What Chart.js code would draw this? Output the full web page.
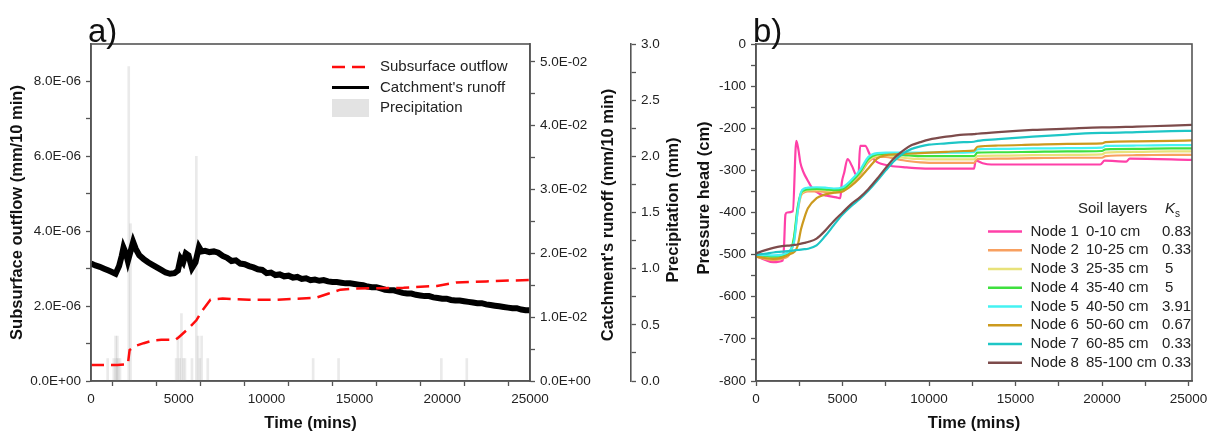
<!DOCTYPE html>
<html>
<head>
<meta charset="utf-8">
<script src="https://cdn.jsdelivr.net/npm/chart.js@4.4.1/dist/chart.umd.min.js"></script>
<style>
  html, body { margin: 0; padding: 0; background: #fff; }
  #wrap { position: relative; width: 1213px; height: 434px; }
  #chartA { position: absolute; left: 0; top: 0; }
  #chartB { position: absolute; left: 690px; top: 0; }
</style>
</head>
<body>
<div id="wrap">
  <canvas id="chartA" width="690" height="434"></canvas>
  <canvas id="chartB" width="523" height="434"></canvas>
</div>
<script>
// ---- panel a data ----
const OUTFLOW_TIME = [0, 1500, 2100, 2200, 2500, 3000, 3500, 4000, 4800, 5000, 5500, 6000, 6300, 6800, 7500, 9000, 10500, 12800, 13500, 14200, 15000, 17800, 19700, 20800, 22500, 25000];
const OUTFLOW = [0.43e-6, 0.43e-6, 0.45e-6, 0.83e-6, 0.93e-6, 1.01e-6, 1.08e-6, 1.10e-6, 1.10e-6, 1.17e-6, 1.38e-6, 1.62e-6, 1.86e-6, 2.17e-6, 2.20e-6, 2.17e-6, 2.17e-6, 2.22e-6, 2.33e-6, 2.44e-6, 2.47e-6, 2.49e-6, 2.54e-6, 2.63e-6, 2.66e-6, 2.70e-6];

const RUNOFF_TIME = [0, 250, 500, 750, 1000, 1250, 1400, 1600, 1750, 1850, 2000, 2100, 2250, 2400, 2550, 2750, 3000, 3250, 3500, 3750, 4000, 4250, 4500, 4750, 4950, 5100, 5250, 5400, 5550, 5750, 5950, 6150, 6300, 6500, 6750, 7000, 7250, 7500, 7750, 8000, 8250, 8500, 8750, 9000, 9250, 9500, 9750, 10000, 10250, 10500, 10750, 11000, 11250, 11500, 11750, 12000, 12250, 12500, 12750, 13000, 13250, 13500, 13750, 14000, 14250, 14500, 14750, 15000, 15250, 15500, 15750, 16000, 16250, 16500, 16750, 17000, 17250, 17500, 17750, 18000, 18250, 18500, 18750, 19000, 19250, 19500, 19750, 20000, 20250, 20500, 20750, 21000, 21250, 21500, 21750, 22000, 22250, 22500, 22750, 23000, 23250, 23500, 23750, 24000, 24250, 24500, 24750, 25000];
const RUNOFF = [0.0184, 0.0181, 0.0179, 0.0176, 0.0173, 0.0170, 0.0168, 0.0180, 0.0196, 0.0209, 0.0199, 0.0188, 0.0203, 0.0218, 0.0207, 0.0197, 0.0191, 0.0186, 0.0182, 0.0178, 0.0174, 0.0170, 0.0168, 0.0169, 0.0173, 0.0192, 0.0186, 0.0200, 0.0197, 0.0177, 0.0186, 0.0210, 0.0203, 0.0204, 0.0202, 0.0203, 0.0201, 0.0196, 0.0193, 0.0188, 0.0189, 0.0184, 0.0183, 0.0180, 0.0178, 0.0175, 0.0174, 0.0169, 0.0170, 0.0166, 0.0167, 0.0164, 0.0165, 0.0162, 0.0163, 0.0160, 0.0161, 0.0158, 0.0159, 0.0157, 0.0158, 0.0156, 0.0155, 0.0155, 0.0154, 0.0153, 0.0153, 0.0152, 0.0151, 0.0150, 0.0148, 0.0147, 0.0147, 0.0145, 0.0143, 0.0142, 0.0142, 0.0140, 0.0138, 0.0137, 0.0137, 0.0135, 0.0134, 0.0133, 0.0133, 0.0131, 0.0130, 0.0129, 0.0129, 0.0127, 0.0126, 0.0126, 0.0125, 0.0124, 0.0123, 0.0122, 0.0122, 0.0120, 0.0119, 0.0118, 0.0117, 0.0116, 0.0115, 0.0114, 0.0114, 0.0112, 0.0111, 0.0111];

const PRECIP_TIME = [950, 1300, 1400, 1450, 1500, 1550, 1650, 2150, 2250, 4850, 4950, 5050, 5150, 5250, 5350, 5750, 6000, 6100, 6200, 6300, 6650, 12650, 14100, 19950, 21400];
const PRECIP_MM = [0.2, 0.2, 0.4, 0.2, 0.4, 0.2, 0.2, 2.8, 1.4, 0.2, 0.4, 0.2, 0.6, 0.2, 0.2, 0.2, 2.0, 0.4, 0.2, 0.4, 0.2, 0.2, 0.2, 0.2, 0.2];

const A_X_TICKS = [0, 2500, 5000, 7500, 10000, 12500, 15000, 17500, 20000, 22500, 25000];
const A_X_LABELS = ['0', '', '5000', '', '10000', '', '15000', '', '20000', '', '25000'];
const OUTFLOW_TICKS = [0, 1e-6, 2e-6, 3e-6, 4e-6, 5e-6, 6e-6, 7e-6, 8e-6];
const OUTFLOW_LABELS = ['0.0E+00', '', '2.0E-06', '', '4.0E-06', '', '6.0E-06', '', '8.0E-06'];
const RUNOFF_TICKS = [0, 0.005, 0.01, 0.015, 0.02, 0.025, 0.03, 0.035, 0.04, 0.045, 0.05];
const RUNOFF_LABELS = ['0.0E+00', '', '1.0E-02', '', '2.0E-02', '', '3.0E-02', '', '4.0E-02', '', '5.0E-02'];
const PRECIP_TICKS = [0, 0.25, 0.5, 0.75, 1, 1.25, 1.5, 1.75, 2, 2.25, 2.5, 2.75, 3];
const PRECIP_LABELS = ['0.0', '', '0.5', '', '1.0', '', '1.5', '', '2.0', '', '2.5', '', '3.0'];

// ---- panel b data ----
const NODE_NAMES = ['Node 1', 'Node 2', 'Node 3', 'Node 4', 'Node 5', 'Node 6', 'Node 7', 'Node 8'];
const NODE_DEPTHS = ['0-10 cm', '10-25 cm', '25-35 cm', '35-40 cm', '40-50 cm', '50-60 cm', '60-85 cm', '85-100 cm'];
const NODE_KS = ['0.83', '0.33', '5', '5', '3.91', '0.67', '0.33', '0.33'];

const N1_TIME = [0, 500, 1000, 1550, 1620, 1700, 1800, 2130, 2330, 2460, 2560, 2750, 2950, 3300, 3700, 4100, 4650, 4870, 4960, 5100, 5290, 5540, 5830, 5920, 6020, 6310, 6600, 6980, 7750, 8700, 10000, 12600, 12700, 13100, 13600, 19900, 20150, 21400, 21600, 25200];
const N1_HEAD = [-503, -512, -518, -514, -480, -405, -400, -397, -230, -253, -281, -305, -321, -345, -356, -360, -364, -366, -329, -305, -273, -289, -313, -312, -242, -242, -264, -280, -289, -293, -296, -296, -277, -283, -286, -286, -277, -279, -272, -275];

const B_TIME = [0, 500, 1000, 1500, 2000, 2200, 2400, 2600, 2800, 3000, 3500, 4000, 4500, 5000, 5500, 6000, 6500, 7000, 7500, 8000, 8500, 9000, 9500, 10000, 11000, 12000, 12600, 12800, 14000, 16000, 18000, 20000, 20200, 22000, 24000, 25200];
const N2_HEAD = [-505, -510, -513, -510, -495, -465, -400, -360, -352, -350, -350, -351, -352, -350, -332, -310, -280, -268, -268, -272, -276, -279, -281, -282, -282, -282, -282, -273, -272, -271, -270, -270, -266, -264, -263, -263];
const N3_HEAD = [-503, -507, -509, -506, -492, -460, -395, -357, -349, -347, -346, -347, -349, -347, -330, -307, -276, -265, -264, -267, -270, -272, -273, -274, -274, -274, -274, -266, -265, -264, -263, -262, -258, -256, -255, -255];
const N4_HEAD = [-501, -503, -505, -503, -490, -458, -390, -354, -347, -345, -344, -345, -347, -345, -328, -305, -273, -262, -261, -262, -264, -265, -266, -266, -266, -266, -266, -258, -257, -256, -255, -254, -250, -249, -248, -248];
const N5_HEAD = [-500, -501, -502, -500, -488, -470, -400, -352, -343, -341, -340, -341, -343, -340, -323, -300, -268, -259, -258, -258, -258, -258, -258, -258, -258, -258, -257, -250, -249, -248, -247, -246, -242, -241, -240, -240];
const N6_HEAD = [-505, -508, -510, -507, -498, -494, -480, -440, -412, -390, -366, -357, -353, -350, -337, -318, -295, -272, -264, -262, -261, -260, -259, -258, -256, -254, -253, -244, -241, -239, -237, -236, -233, -231, -230, -229];
const N7_HEAD = [-500, -498, -495, -493, -491, -490, -489, -488, -487, -486, -478, -456, -430, -405, -385, -368, -348, -325, -300, -277, -260, -249, -243, -239, -236, -233, -232, -230, -226, -220, -215, -211, -211, -209, -207, -206];
const N8_HEAD = [-497, -490, -484, -480, -478, -477, -476, -474, -472, -470, -462, -443, -420, -400, -380, -364, -344, -320, -294, -270, -253, -240, -233, -227, -220, -215, -214, -213, -209, -204, -201, -198, -198, -196, -194, -192];

const B_X_TICKS = [0, 2500, 5000, 7500, 10000, 12500, 15000, 17500, 20000, 22500, 25000];
const B_X_LABELS = ['0', '', '5000', '', '10000', '', '15000', '', '20000', '', '25000'];
const B_Y_TICKS = [-800, -750, -700, -650, -600, -550, -500, -450, -400, -350, -300, -250, -200, -150, -100, -50, 0];
const B_Y_LABELS = ['-800', '', '-700', '', '-600', '', '-500', '', '-400', '', '-300', '', '-200', '', '-100', '', '0'];

// ---- styles ----
const FONT = "'Liberation Sans', Arial, sans-serif";
const AXIS_COLOR = '#555';
const NODE_COLORS = ['#ff40a8', '#f8a060', '#e8e27a', '#3fe03f', '#44f2f2', '#cc9a1e', '#1ec6c6', '#7d4b4b'];

Chart.defaults.font.family = FONT;
Chart.defaults.color = '#222';

const pts = (xs, ys) => xs.map((x, i) => ({ x: x, y: ys[i] }));
const setTicks = values => scale => { scale.ticks = values.map(v => ({ value: v })); };

function axis(position, min, max, ticks, labels, size, extra) {
  const vertical = position === 'left' || position === 'right';
  return Object.assign({
    type: 'linear',
    position: position,
    min: min,
    max: max,
    offset: false,
    afterBuildTicks: setTicks(ticks),
    afterFit: s => { if (vertical) s.width = size; else s.height = size; },
    border: { color: AXIS_COLOR, width: 1.6 },
    grid: { drawOnChartArea: false, drawTicks: true, tickLength: 5, tickWidth: 1.3, tickColor: AXIS_COLOR },
    ticks: { autoSkip: false, maxRotation: 0, padding: 5, color: '#222', font: { size: 13.5 },
             callback: (v, i) => labels[i] }
  }, extra || {});
}

function vText(ctx, text, x, y) {
  ctx.save();
  ctx.translate(x, y);
  ctx.rotate(-Math.PI / 2);
  ctx.textAlign = 'center';
  ctx.textBaseline = 'middle';
  ctx.fillText(text, 0, 0);
  ctx.restore();
}

// box around the plot, panel letter and custom axis titles
const framePlugin = {
  id: 'frame',
  afterDraw(chart, args, opts) {
    const { ctx, chartArea: a } = chart;
    ctx.save();
    ctx.strokeStyle = AXIS_COLOR;
    ctx.lineWidth = 1.6;
    ctx.strokeRect(a.left, a.top, a.right - a.left, a.bottom - a.top);
    ctx.fillStyle = '#111';
    ctx.font = '33px ' + FONT;
    ctx.textBaseline = 'alphabetic';
    ctx.textAlign = 'left';
    ctx.fillText(opts.label, a.left - 3, a.top - 2);
    ctx.font = 'bold 16.5px ' + FONT;
    (opts.titles || []).forEach(t => {
      const s = chart.scales[t.axis];
      vText(ctx, t.text, s.right + t.dx, t.y);
    });
    ctx.restore();
  }
};

const legendA = {
  id: 'legendA',
  afterDraw(chart) {
    const { ctx, chartArea: a } = chart;
    const x0 = a.right - 198, x1 = a.right - 161, tx = a.right - 150;
    ctx.save();
    ctx.font = '15px ' + FONT;
    ctx.textBaseline = 'middle';
    chart.data.datasets.forEach((ds, i) => {
      const y = a.top + 23 + 20.5 * i;
      if (ds.type === 'bar') {
        ctx.fillStyle = '#e3e3e3';
        ctx.fillRect(x0, y - 9, x1 - x0, 18);
      } else {
        ctx.strokeStyle = ds.borderColor;
        ctx.lineWidth = i === 0 ? 2.5 : 3;
        ctx.setLineDash(ds.borderDash || []);
        ctx.beginPath();
        ctx.moveTo(x0, y);
        ctx.lineTo(x1, y);
        ctx.stroke();
        ctx.setLineDash([]);
      }
      ctx.fillStyle = '#222';
      ctx.fillText(ds.label, tx, y);
    });
    ctx.restore();
  }
};

const legendB = {
  id: 'legendB',
  afterDraw(chart) {
    const { ctx, chartArea: a } = chart;
    const x0 = a.right - 204, x1 = a.right - 170;
    ctx.save();
    ctx.textBaseline = 'middle';
    ctx.fillStyle = '#222';
    ctx.font = '15px ' + FONT;
    ctx.fillText('Soil layers', a.right - 114, 209);
    ctx.font = 'italic 15px ' + FONT;
    ctx.fillText('K', a.right - 27, 209);
    ctx.font = '10px ' + FONT;
    ctx.fillText('s', a.right - 17, 214);
    ctx.font = '15px ' + FONT;
    NODE_NAMES.forEach((name, i) => {
      const y = 231.5 + 18.75 * i;
      ctx.strokeStyle = NODE_COLORS[i];
      ctx.lineWidth = 2.5;
      ctx.beginPath();
      ctx.moveTo(x0, y);
      ctx.lineTo(x1, y);
      ctx.stroke();
      ctx.fillText(name, a.right - 161.5, y);
      ctx.fillText(NODE_DEPTHS[i], a.right - 106, y);
      ctx.fillText(NODE_KS[i], a.right - (NODE_KS[i].length > 1 ? 30 : 27), y);
    });
    ctx.restore();
  }
};

// ---- panel a ----
new Chart(document.getElementById('chartA'), {
  type: 'line',
  data: {
    datasets: [
      { label: 'Subsurface outflow', data: pts(OUTFLOW_TIME, OUTFLOW), yAxisID: 'yL',
        borderColor: '#ff0d0d', borderWidth: 2.5, borderDash: [13, 7], pointRadius: 0, order: 0 },
      { label: "Catchment's runoff", data: pts(RUNOFF_TIME, RUNOFF), yAxisID: 'yR',
        borderColor: '#000', borderWidth: 6, pointRadius: 0, order: 1 },
      { type: 'bar', label: 'Precipitation', data: pts(PRECIP_TIME, PRECIP_MM), yAxisID: 'yP',
        backgroundColor: 'rgba(160,160,160,0.22)', barThickness: 2, order: 2 }
    ]
  },
  options: {
    responsive: false,
    animation: false,
    devicePixelRatio: 1,
    layout: { padding: { top: 44, left: 0, right: 0, bottom: 0 } },
    plugins: {
      legend: { display: false },
      tooltip: { enabled: false },
      frame: {
        label: 'a)',
        titles: [
          { axis: 'yR', text: "Catchment's runoff (mm/10 min)", dx: -23, y: 215 },
          { axis: 'yP', text: 'Precipitation (mm)', dx: -17, y: 210 }
        ]
      }
    },
    scales: {
      x: axis('bottom', 0, 25000, A_X_TICKS, A_X_LABELS, 53, {
        title: { display: true, text: 'Time (mins)', color: '#111',
                 font: { size: 16.5, weight: 'bold' }, padding: { top: 0, bottom: 1 } }
      }),
      yL: axis('left', 0, 9e-6, OUTFLOW_TICKS, OUTFLOW_LABELS, 91, {
        title: { display: true, text: 'Subsurface outflow (mm/10 min)', color: '#111',
                 font: { size: 16.5, weight: 'bold' }, padding: { top: 8, bottom: 0 } }
      }),
      yR: axis('right', 0, 0.0528, RUNOFF_TICKS, RUNOFF_LABELS, 101, { weight: 0 }),
      yP: axis('right', 0, 3, PRECIP_TICKS, PRECIP_LABELS, 59, { weight: 1 })
    }
  },
  plugins: [framePlugin, legendA]
});

// ---- panel b ----
const headSeries = [pts(N1_TIME, N1_HEAD), pts(B_TIME, N2_HEAD), pts(B_TIME, N3_HEAD), pts(B_TIME, N4_HEAD),
                    pts(B_TIME, N5_HEAD), pts(B_TIME, N6_HEAD), pts(B_TIME, N7_HEAD), pts(B_TIME, N8_HEAD)];

new Chart(document.getElementById('chartB'), {
  type: 'line',
  data: {
    datasets: headSeries.map((d, i) => ({
      label: NODE_NAMES[i], data: d, borderColor: NODE_COLORS[i], borderWidth: 2.2,
      pointRadius: 0, cubicInterpolationMode: 'monotone', order: 8 - i
    }))
  },
  options: {
    responsive: false,
    animation: false,
    devicePixelRatio: 1,
    layout: { padding: { top: 44, left: 0, right: 21, bottom: 0 } },
    plugins: {
      legend: { display: false },
      tooltip: { enabled: false },
      frame: {
        label: 'b)',
        titles: [{ axis: 'y', text: 'Pressure head (cm)', dx: -52, y: 198 }]
      }
    },
    scales: {
      x: axis('bottom', 0, 25200, B_X_TICKS, B_X_LABELS, 53, {
        title: { display: true, text: 'Time (mins)', color: '#111',
                 font: { size: 16.5, weight: 'bold' }, padding: { top: 0, bottom: 1 } }
      }),
      y: axis('left', -800, 0, B_Y_TICKS, B_Y_LABELS, 66)
    }
  },
  plugins: [framePlugin, legendB]
});
</script>
</body>
</html>
